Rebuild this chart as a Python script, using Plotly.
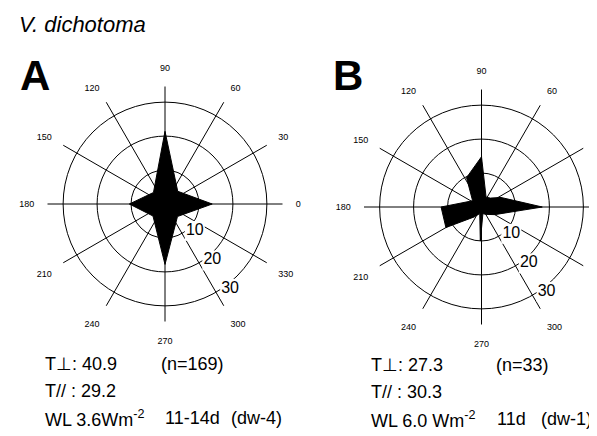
import plotly.graph_objects as go

W, H = 597, 436

# ---- data ----
angle_ticks = [0, 30, 60, 90, 120, 150, 180, 210, 240, 270, 300, 330]
angle_labels = [str(a) for a in angle_ticks]
ring_values = [10, 20, 30]
ring_labels = ["10", "20", "30"]
ring_label_theta = [-42, -50, -52.5]
ring_label_r = [11.8, 21.7, 31.5]

a_theta = [0, 45, 90, 135, 180, 225, 270, 315]
a_r = [13.9, 5.3, 21.4, 4.8, 10.5, 5.0, 17.8, 5.2]

b_theta = [0, 26, 45, 65, 90, 117, 145, 180, 210, 234, 255, 268, 282, 300, 330]
b_r = [17.9, 6.4, 3.7, 3.2, 14.8, 9.7, 3.2, 11.9, 12.1, 3.6, 2.0, 10.0, 2.0, 2.5, 4.5]

r_max = 34.6
FONT = "Liberation Sans, Arial, Helvetica, sans-serif"

fig = go.Figure()

for name, th, rr in [("polar", a_theta, a_r), ("polar2", b_theta, b_r)]:
    fig.add_trace(go.Scatterpolar(
        theta=th + th[:1], r=rr + rr[:1], mode="lines", fill="toself",
        fillcolor="black", line=dict(color="black", width=1),
        subplot=name, showlegend=False, hoverinfo="skip"))
    fig.add_trace(go.Scatterpolar(
        theta=ring_label_theta, r=ring_label_r, mode="markers+text",
        text=ring_labels, textposition="middle center",
        textfont=dict(family=FONT, size=16, color="black"),
        marker=dict(symbol="square", size=20, color="white"),
        subplot=name, showlegend=False, hoverinfo="skip"))

def polar_layout(cx, cy, rad):
    return dict(
        domain=dict(x=[(cx - rad) / W, (cx + rad) / W],
                    y=[(H - cy - rad) / H, (H - cy + rad) / H]),
        bgcolor="white",
        angularaxis=dict(rotation=0, direction="counterclockwise",
                         tickmode="array", tickvals=angle_ticks, ticktext=angle_labels,
                         showline=False, showgrid=True, gridcolor="black", gridwidth=1.2,
                         ticks="outside", ticklen=11, tickcolor="rgba(0,0,0,0)",
                         tickfont=dict(family=FONT, size=9, color="black"),
                         layer="below traces"),
        radialaxis=dict(range=[0, r_max], tickmode="array", tickvals=ring_values,
                        showticklabels=False, showline=False, ticks="",
                        showgrid=True, gridcolor="black", gridwidth=1.2,
                        layer="below traces"),
    )

fig.update_layout(
    width=W, height=H, margin=dict(l=0, r=0, t=0, b=0),
    paper_bgcolor="white", plot_bgcolor="white",
    polar=polar_layout(157, 196, 117.5),
    polar2=polar_layout(473.5, 199, 117.5),
)

def ann(text, x, y, size=18, bold=False, italic=False):
    t = text
    if bold:
        t = "<b>" + t + "</b>"
    if italic:
        t = "<i>" + t + "</i>"
    fig.add_annotation(text=t, x=x / W, y=1 - y / H, xref="paper", yref="paper",
                       xanchor="left", yanchor="middle", showarrow=False,
                       font=dict(family=FONT, size=size, color="black"))

ann("V. dichotoma", 9, 16, size=22, italic=True)
ann("A", 10, 68, size=42, bold=True)
ann("B", 323, 68, size=42, bold=True)

ann("T\u22a5: 40.9", 35, 356)
ann("(n=169)", 151, 356)
ann("T// : 29.2", 35, 383)
ann("WL 3.6Wm<sup>-2</sup>", 35, 410)
ann("11-14d", 155, 410)
ann("(dw-4)", 221, 410)

ann("T\u22a5: 27.3", 361, 357)
ann("(n=33)", 486, 357)
ann("T// : 30.3", 361, 384)
ann("WL 6.0 Wm<sup>-2</sup>", 361, 411)
ann("11d", 487, 411)
ann("(dw-1)", 531, 411)

fig.write_html("out.html")
